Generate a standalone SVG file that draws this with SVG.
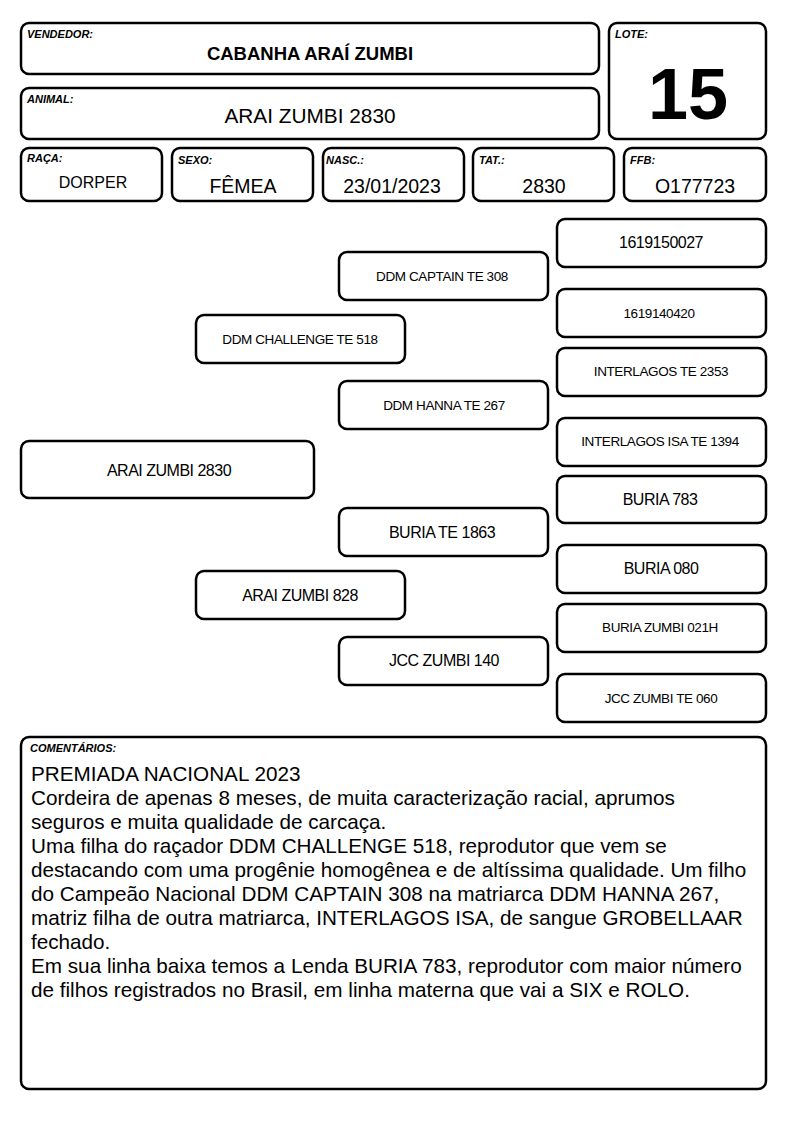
<svg xmlns="http://www.w3.org/2000/svg" width="794" height="1123" viewBox="0 0 794 1123">
<style>
.b{fill:#fff;stroke:#000;stroke-width:2.5}
.lab{font-family:"Liberation Sans",Arial,sans-serif;font-size:11px;font-weight:bold;font-style:italic;fill:#000}
.v{font-family:"Liberation Sans",Arial,sans-serif;font-size:19.5px;fill:#000;text-anchor:middle}
.n{font-family:"Liberation Sans",Arial,sans-serif;font-size:16px;fill:#000;text-anchor:middle;letter-spacing:-0.5px}
.s{font-family:"Liberation Sans",Arial,sans-serif;font-size:13.5px;fill:#000;text-anchor:middle;letter-spacing:-0.4px}
.c{font-family:"Liberation Sans",Arial,sans-serif;font-size:20.7px;fill:#000}
</style>
<rect width="794" height="1123" fill="#fff"/>
<g id="vendedor"><rect class="b" x="21" y="23" width="578" height="51" rx="8"/><text class="lab" x="27" y="38">VENDEDOR:</text><text class="v" x="310" y="60" style="font-size:18.5px;font-weight:bold">CABANHA ARAÍ ZUMBI</text></g>
<g id="animal"><rect class="b" x="21" y="88" width="578" height="51" rx="8"/><text class="lab" x="27" y="103">ANIMAL:</text><text class="v" x="310" y="123" style="font-size:20.8px">ARAI ZUMBI 2830</text></g>
<g id="lote"><rect class="b" x="609" y="23" width="157" height="116" rx="8"/><text class="lab" x="615" y="38">LOTE:</text><text x="688" y="119" font-family="Liberation Sans,Arial,sans-serif" font-size="72" font-weight="bold" text-anchor="middle">15</text></g>
<g id="raca"><rect class="b" x="21" y="148" width="141" height="53" rx="8"/><text class="lab" x="27" y="162">RAÇA:</text><text class="v" x="93" y="188" style="font-size:16px">DORPER</text></g>
<g id="sexo"><rect class="b" x="172" y="148" width="141" height="53" rx="8"/><text class="lab" x="178" y="164">SEXO:</text><text class="v" x="243" y="193">FÊMEA</text></g>
<g id="nasc"><rect class="b" x="323" y="148" width="141" height="53" rx="8"/><text class="lab" x="326" y="164">NASC.:</text><text class="v" x="392" y="193">23/01/2023</text></g>
<g id="tat"><rect class="b" x="473" y="148" width="141" height="53" rx="8"/><text class="lab" x="479" y="164">TAT.:</text><text class="v" x="544" y="193">2830</text></g>
<g id="ffb"><rect class="b" x="624" y="148" width="142" height="53" rx="8"/><text class="lab" x="630" y="164">FFB:</text><text class="v" x="695" y="193">O177723</text></g>

<g id="p0"><rect class="b" x="21" y="441" width="293" height="57" rx="8"/><text class="n" x="169" y="476">ARAI ZUMBI 2830</text></g>
<g id="p1"><rect class="b" x="196" y="315" width="209" height="48" rx="8"/><text class="s" x="300" y="344">DDM CHALLENGE TE 518</text></g>
<g id="p2"><rect class="b" x="196" y="571" width="209" height="48" rx="8"/><text class="n" x="300" y="601">ARAI ZUMBI 828</text></g>
<g id="p3"><rect class="b" x="339" y="252" width="209" height="48" rx="8"/><text class="s" x="442" y="281">DDM CAPTAIN TE 308</text></g>
<g id="p4"><rect class="b" x="339" y="381" width="209" height="48" rx="8"/><text class="s" x="444" y="410">DDM HANNA TE 267</text></g>
<g id="p5"><rect class="b" x="339" y="508" width="209" height="48" rx="8"/><text class="n" x="442" y="538">BURIA TE 1863</text></g>
<g id="p6"><rect class="b" x="339" y="637" width="209" height="48" rx="8"/><text class="n" x="444" y="666">JCC ZUMBI 140</text></g>
<g id="p7"><rect class="b" x="557" y="219" width="209" height="48" rx="8"/><text class="n" x="661" y="248">1619150027</text></g>
<g id="p8"><rect class="b" x="557" y="289" width="209" height="48" rx="8"/><text class="s" x="659" y="318">1619140420</text></g>
<g id="p9"><rect class="b" x="557" y="348" width="209" height="48" rx="8"/><text class="s" x="661" y="376">INTERLAGOS TE 2353</text></g>
<g id="p10"><rect class="b" x="557" y="418" width="209" height="48" rx="8"/><text class="s" x="660" y="446">INTERLAGOS ISA TE 1394</text></g>
<g id="p11"><rect class="b" x="557" y="476" width="209" height="47" rx="8"/><text class="n" x="660" y="505">BURIA 783</text></g>
<g id="p12"><rect class="b" x="557" y="545" width="209" height="48" rx="8"/><text class="n" x="661" y="574">BURIA 080</text></g>
<g id="p13"><rect class="b" x="557" y="604" width="209" height="48" rx="8"/><text class="s" x="660" y="632">BURIA ZUMBI 021H</text></g>
<g id="p14"><rect class="b" x="557" y="674" width="209" height="48" rx="8"/><text class="s" x="661" y="703">JCC ZUMBI TE 060</text></g>
<g id="connectors"></g>

<g id="comentarios"><rect class="b" x="21" y="737" width="745" height="352" rx="8"/><text class="lab" x="30" y="752">COMENTÁRIOS:</text>
<text class="c" x="31" y="781">PREMIADA NACIONAL 2023</text>
<text class="c" x="31" y="805">Cordeira de apenas 8 meses, de muita caracterização racial, aprumos</text>
<text class="c" x="31" y="829">seguros e muita qualidade de carcaça.</text>
<text class="c" x="31" y="853">Uma filha do raçador DDM CHALLENGE 518, reprodutor que vem se</text>
<text class="c" x="31" y="877">destacando com uma progênie homogênea e de altíssima qualidade. Um filho</text>
<text class="c" x="31" y="901">do Campeão Nacional DDM CAPTAIN 308 na matriarca DDM HANNA 267,</text>
<text class="c" x="31" y="925">matriz filha de outra matriarca, INTERLAGOS ISA, de sangue GROBELLAAR</text>
<text class="c" x="31" y="949">fechado.</text>
<text class="c" x="31" y="973">Em sua linha baixa temos a Lenda BURIA 783, reprodutor com maior número</text>
<text class="c" x="31" y="997">de filhos registrados no Brasil, em linha materna que vai a SIX e ROLO.</text>
</g>
</svg>
